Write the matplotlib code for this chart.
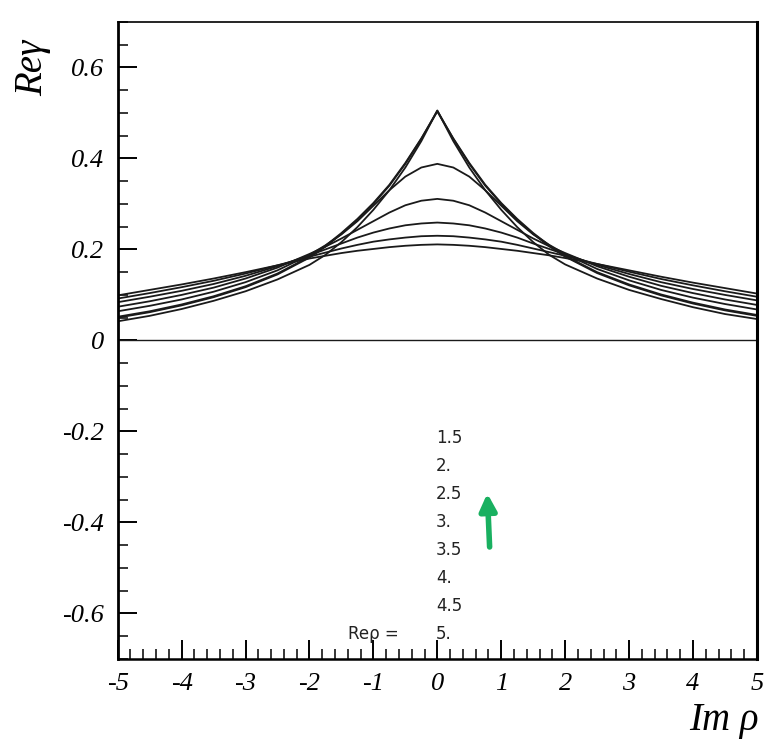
import numpy as np
import matplotlib
matplotlib.use("Agg")
from matplotlib import pyplot as plt
from matplotlib.ticker import MultipleLocator, FixedLocator

# Im rho sample positions
im_rho = [-5, -4.5, -4, -3.5, -3, -2.5, -2, -1.75, -1.5, -1.25, -1, -0.75, -0.5, -0.25, 0,
          0.25, 0.5, 0.75, 1, 1.25, 1.5, 1.75, 2, 2.5, 3, 3.5, 4, 4.5, 5]

# Re gamma, one list per Re rho
re_rho_labels = ["1.5", "2.", "2.5", "3.", "3.5", "4.", "4.5", "5."]
g_15 = [.042, .054, .069, .087, .108, .134, .166, .188, .216, .249, .287, .330, .380, .438, .505,
        .438, .380, .330, .287, .249, .216, .188, .167, .136, .111, .091, .073, .058, .047]
g_20 = [.050, .062, .077, .095, .117, .145, .182, .206, .234, .265, .300, .340, .388, .443, .505,
        .443, .388, .340, .300, .265, .234, .207, .184, .148, .121, .099, .081, .066, .054]
g_25 = [.052, .064, .079, .097, .119, .147, .184, .208, .236, .267, .302, .342, .390, .444, .503,
        .444, .390, .342, .302, .267, .236, .209, .186, .150, .123, .101, .083, .068, .056]
g_30 = [.064, .076, .090, .107, .128, .154, .188, .209, .233, .262, .296, .330, .360, .380, .388,
        .380, .360, .330, .296, .262, .233, .210, .190, .157, .132, .111, .094, .080, .068]
g_35 = [.074, .086, .100, .116, .136, .160, .190, .206, .224, .243, .262, .281, .297, .307, .311,
        .307, .297, .281, .262, .243, .224, .207, .192, .163, .140, .120, .104, .090, .078]
g_40 = [.084, .096, .109, .124, .142, .163, .187, .200, .213, .226, .237, .246, .253, .257, .259,
        .257, .253, .246, .237, .226, .213, .201, .189, .166, .146, .128, .113, .100, .088]
g_45 = [.092, .104, .117, .131, .147, .165, .184, .193, .202, .210, .217, .222, .226, .229, .230,
        .229, .226, .222, .217, .210, .202, .194, .186, .168, .151, .135, .121, .108, .096]
g_50 = [.099, .111, .123, .136, .150, .165, .180, .186, .192, .197, .201, .205, .208, .210, .211,
        .210, .208, .205, .201, .197, .192, .187, .181, .168, .154, .140, .127, .115, .103]
curves = [g_15, g_20, g_25, g_30, g_35, g_40, g_45, g_50]

x_ticks = [-5, -4, -3, -2, -1, 0, 1, 2, 3, 4, 5]
y_ticks = [-0.6, -0.4, -0.2, 0, 0.2, 0.4, 0.6]
y_tick_labels = ['-0.6', '-0.4', '-0.2', '0', '0.2', '0.4', '0.6']

plt.rcParams['axes.unicode_minus'] = False
serif = ['Liberation Serif', 'DejaVu Serif']

fig = plt.figure(figsize=(7.74, 7.54), dpi=100)
ax = fig.add_axes([0.152, 0.126, 0.826, 0.845])

for g in curves:
    ax.plot(im_rho, g, color='#1a1a1a', lw=1.3)
ax.axhline(0, color='#1a1a1a', lw=1.0)

ax.set_xlim(-5, 5)
ax.set_ylim(-0.7, 0.7)
ax.xaxis.set_major_locator(FixedLocator(x_ticks))
ax.xaxis.set_minor_locator(MultipleLocator(0.2))
ax.yaxis.set_major_locator(FixedLocator(y_ticks))
ax.yaxis.set_minor_locator(MultipleLocator(0.05))
ax.set_yticklabels(y_tick_labels)
ax.set_xticklabels([str(v) for v in x_ticks])
ax.tick_params(which='major', direction='in', length=14, width=1.4,
               labelsize=19, top=False, right=False, pad=10)
ax.tick_params(which='minor', direction='in', length=7, width=1.1,
               top=False, right=False)
for lab in ax.get_xticklabels() + ax.get_yticklabels():
    lab.set_family(serif)
    lab.set_style('italic')
ax.spines['left'].set_linewidth(2.0)
ax.spines['bottom'].set_linewidth(1.8)
ax.spines['right'].set_linewidth(2.2)
ax.spines['top'].set_linewidth(1.2)

# legend of Re rho values
for i, s in enumerate(re_rho_labels):
    ax.text(-0.02, -0.215 - i * 0.0614, s, fontsize=12, family='DejaVu Sans',
            va='center', ha='left', color='#222222')
ax.text(-1.4, -0.645, 'Re\u03c1 =', fontsize=12, family='DejaVu Sans',
        va='center', ha='left', color='#222222')

# green marker arrow drawn on the page
ax.annotate('', xy=(0.78, -0.33), xytext=(0.82, -0.46),
            arrowprops=dict(arrowstyle='-|>', color='#19b060', lw=4,
                            mutation_scale=25))

fig.text(0.042, 0.91, 'Re\u03b3', fontsize=28, family=serif, style='italic',
         rotation=90, ha='center', va='center')
fig.text(0.935, 0.045, 'Im \u03c1', fontsize=28, family=serif, style='italic',
         ha='center', va='center')

fig.savefig('out.png', dpi=100)
